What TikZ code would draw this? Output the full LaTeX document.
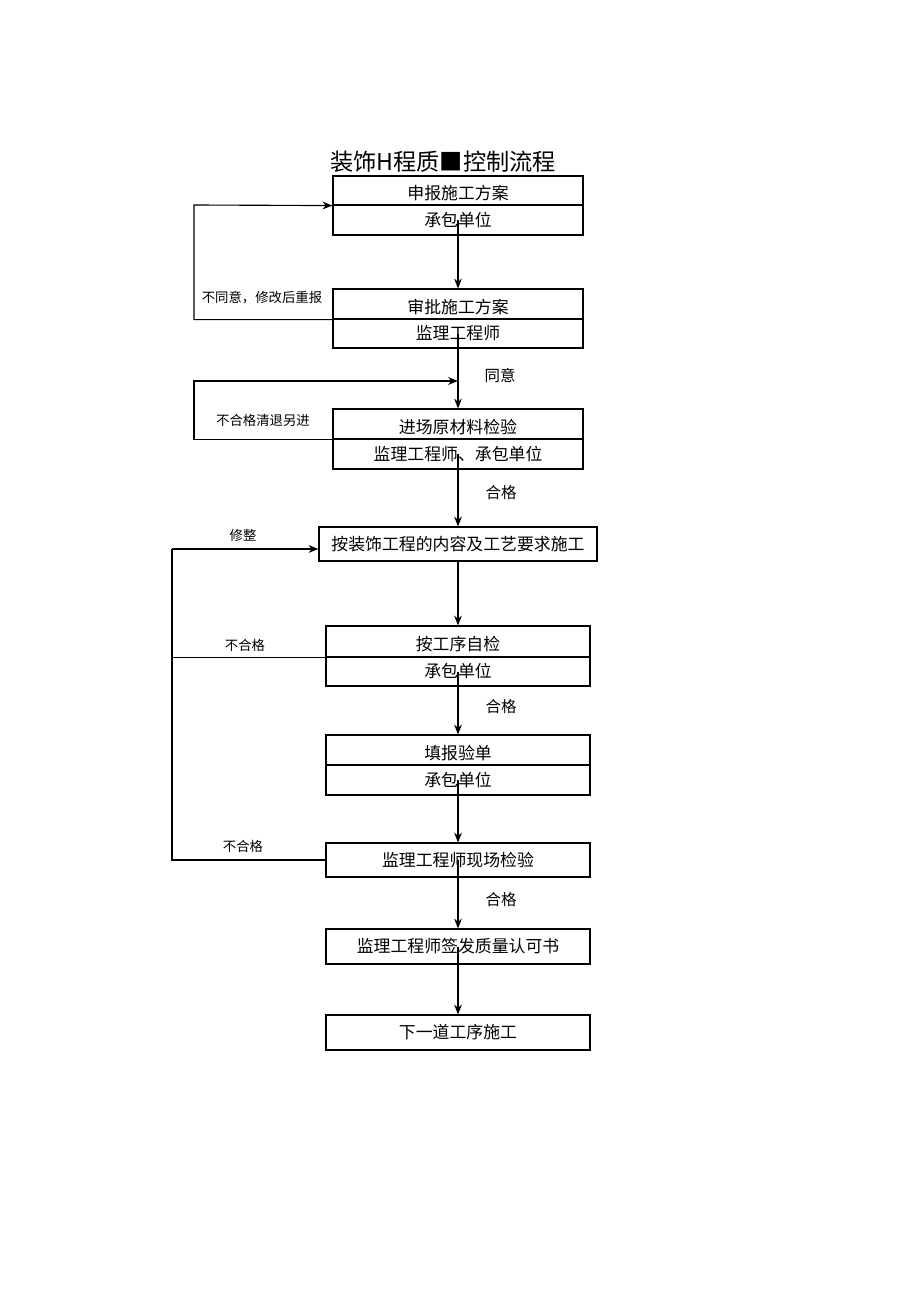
\documentclass[tikz,border=0pt]{standalone}
\usepackage{fontspec}
\setmainfont{Noto Sans CJK SC}
\usetikzlibrary{arrows.meta}

\begin{document}
\begin{tikzpicture}[x=0.025cm,y=-0.025cm,
    cell/.style={draw,line width=0.8pt,inner sep=0pt,minimum width=6.25cm,font=\fontsize{12}{14}\selectfont},
    upper/.style={cell,text height=15pt,text depth=2pt},
    flow/.style={line width=0.8pt,-{Stealth[length=7pt,width=5.5pt]}},
    loop/.style={line width=0.8pt},
    tag/.style={font=\fontsize{9.5}{11}\selectfont,inner sep=0pt}]
    \useasboundingbox (0,0) rectangle (920,1301);

    % Title
    \node [font=\fontsize{16.5}{19}\selectfont,inner sep=0pt] (title) at (443,162) {装饰H程质■控制流程};

    % Box 1: submit plan
    \node [upper,minimum height=0.725cm] (sb1) at (458,190.5) {申报施工方案};
    \node [cell,minimum height=0.75cm] (sb2) at (458,220) {承包单位};

    % Box 2: approve plan
    \node [upper,minimum height=0.75cm] (sp1) at (458,304) {审批施工方案};
    \node [cell,minimum height=0.725cm] (sp2) at (458,333.5) {监理工程师};

    % Box 3: material check
    \node [upper,minimum height=0.75cm] (jc1) at (458,424) {进场原材料检验};
    \node [cell,minimum height=0.75cm] (jc2) at (458,454) {监理工程师、承包单位};

    % Box 4: construction
    \node [cell,minimum width=6.95cm,minimum height=0.85cm] (sg) at (458,544) {按装饰工程的内容及工艺要求施工};

    % Box 5: self check
    \node [upper,minimum width=6.6cm,minimum height=0.775cm] (zj1) at (458,641.5) {按工序自检};
    \node [cell,minimum width=6.6cm,minimum height=0.725cm] (zj2) at (458,671.5) {承包单位};

    % Box 6: report form
    \node [upper,minimum width=6.6cm,minimum height=0.75cm] (tb1) at (458,750) {填报验单};
    \node [cell,minimum width=6.6cm,minimum height=0.75cm] (tb2) at (458,780) {承包单位};

    % Box 7 to 9
    \node [cell,minimum width=6.6cm,minimum height=0.85cm] (xc) at (458,860) {监理工程师现场检验};
    \node [cell,minimum width=6.6cm,minimum height=0.875cm] (qf) at (458,946.5) {监理工程师签发质量认可书};
    \node [cell,minimum width=6.6cm,minimum height=0.875cm] (xd) at (458,1032.5) {下一道工序施工};

    % Main flow
    \draw [flow] (sb2.center) -- (sp1.north);
    \draw [flow] (sp2.center) -- (jc1.north);
    \draw [flow] (jc2.center) -- (sg.north);
    \draw [flow] (sg.south) -- (zj1.north);
    \draw [flow] (zj2.center) -- (tb1.north);
    \draw [flow] (tb2.center) -- (xc.north);
    \draw [flow] (xc.center) -- (qf.north);
    \draw [flow] (qf.center) -- (xd.north);

    % Labels on main flow
    \node [tag,font=\fontsize{11}{13}\selectfont] (ty) at (500,376) {同意};
    \node [tag,font=\fontsize{11}{13}\selectfont] (hg1) at (501,493) {合格};
    \node [tag,font=\fontsize{11}{13}\selectfont] (hg2) at (501,707) {合格};
    \node [tag,font=\fontsize{11}{13}\selectfont] (hg3) at (501,900) {合格};

    % Loop back to box 1
    \coordinate (lp1) at (194,205);
    \draw [flow] (sp1.south west) -| (lp1) -- (sb1.south west);
    \node [tag] (bty) at (262,298) {不同意，修改后重报};

    % Loop back above box 3
    \coordinate (lp2) at (194,381);
    \draw [flow] (jc1.south west) -| (lp2) -- (lp2 -| sp2.center);
    \node [tag] (bhg) at (263,420) {不合格清退另进};

    % Loop back to construction
    \coordinate (lp3) at (172,549);
    \draw [loop] (xc.west) -| (lp3);
    \draw [loop] (zj1.south west) -- (zj1.south west -| lp3);
    \draw [flow] (lp3) -- (sg.west |- lp3);
    \node [tag] (xz) at (243,535) {修整};
    \node [tag] (bhg1) at (245,645) {不合格};
    \node [tag] (bhg2) at (243,846) {不合格};
\end{tikzpicture}
\end{document}
